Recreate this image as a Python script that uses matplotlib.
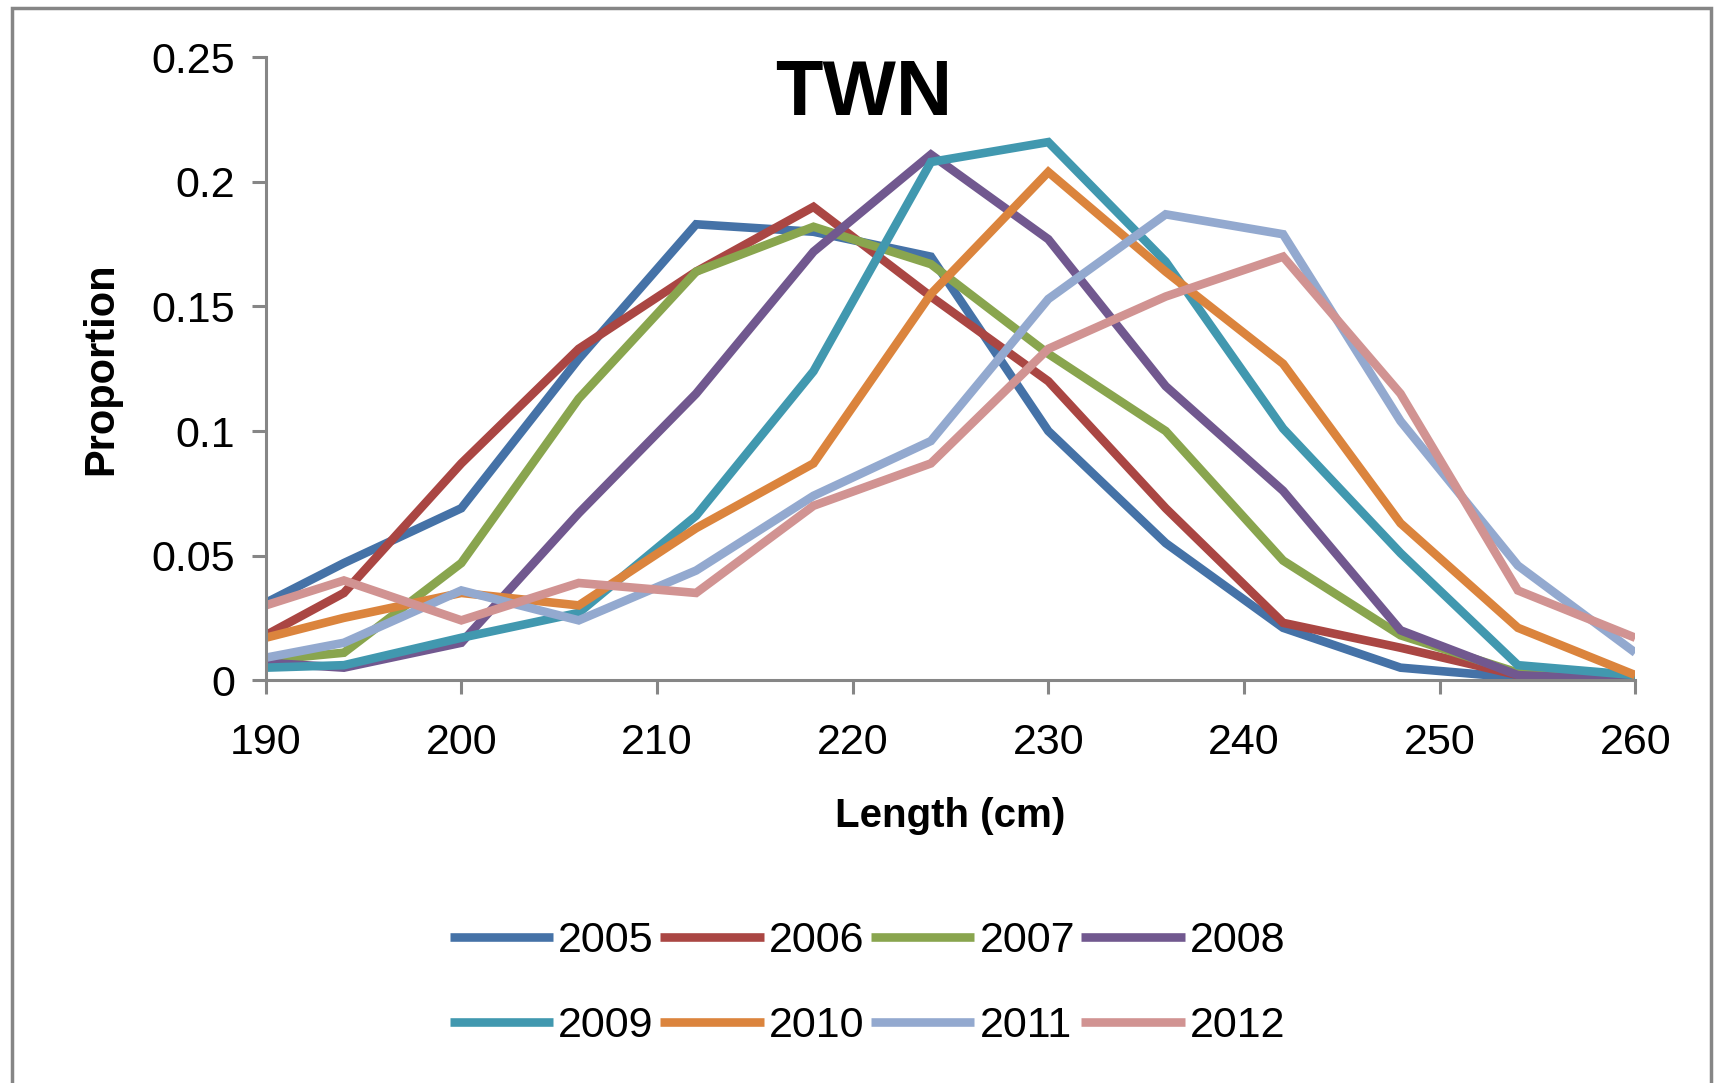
import matplotlib
matplotlib.use('Agg')
import matplotlib.pyplot as plt
import matplotlib.patches as patches

plt.rcParams['font.family'] = ['Liberation Sans Narrow', 'Liberation Sans', 'DejaVu Sans']

# Length classes (cm)
lengths = [190, 194, 200, 206, 212, 218, 224, 230, 236, 242, 248, 254, 260]

years = ['2005', '2006', '2007', '2008', '2009', '2010', '2011', '2012']

p2005 = [0.031, 0.047, 0.069, 0.129, 0.183, 0.180, 0.170, 0.100, 0.055, 0.021, 0.005, 0.001, 0.000]
p2006 = [0.018, 0.035, 0.087, 0.133, 0.164, 0.190, 0.154, 0.120, 0.069, 0.023, 0.013, 0.002, 0.000]
p2007 = [0.008, 0.011, 0.047, 0.113, 0.164, 0.182, 0.167, 0.131, 0.100, 0.048, 0.018, 0.003, 0.000]
p2008 = [0.007, 0.005, 0.015, 0.067, 0.115, 0.172, 0.211, 0.177, 0.118, 0.076, 0.020, 0.002, 0.000]
p2009 = [0.005, 0.006, 0.017, 0.027, 0.066, 0.124, 0.208, 0.216, 0.168, 0.101, 0.051, 0.006, 0.002]
p2010 = [0.017, 0.025, 0.035, 0.030, 0.061, 0.087, 0.155, 0.204, 0.164, 0.127, 0.063, 0.021, 0.002]
p2011 = [0.009, 0.015, 0.036, 0.024, 0.044, 0.074, 0.096, 0.153, 0.187, 0.179, 0.104, 0.046, 0.011]
p2012 = [0.030, 0.040, 0.024, 0.039, 0.035, 0.070, 0.087, 0.133, 0.154, 0.170, 0.115, 0.036, 0.017]

colors = ['#4572A7', '#AA4643', '#89A54E', '#71588F',
          '#4198AF', '#DB843D', '#93A9CF', '#D19392']

series = [p2005, p2006, p2007, p2008, p2009, p2010, p2011, p2012]

fig = plt.figure(figsize=(17.25, 10.83), dpi=100)
ax = fig.add_axes([0.154, 0.372, 0.794, 0.575])

lines = []
for label, vals, c in zip(years, series, colors):
    ln, = ax.plot(lengths, vals, color=c, linewidth=6.2, label=label,
                  solid_joinstyle='miter', solid_capstyle='butt')
    lines.append(ln)

ax.set_xlim(190, 260)
ax.set_ylim(0, 0.25)
ax.set_xticks(range(190, 261, 10))
ax.set_yticks([0, 0.05, 0.1, 0.15, 0.2, 0.25])
ax.set_yticklabels(['0', '0.05', '0.1', '0.15', '0.2', '0.25'])

gray = '#868686'
for side in ['top', 'right']:
    ax.spines[side].set_visible(False)
for side in ['left', 'bottom']:
    ax.spines[side].set_color(gray)
    ax.spines[side].set_linewidth(2.2)
ax.tick_params(axis='both', colors=gray, length=10, width=2.2,
               labelsize=31, labelcolor='black')
ax.tick_params(axis='x', pad=21)
ax.tick_params(axis='y', pad=12)

ax.set_xlabel('Length (cm)', fontsize=29, fontweight='bold', labelpad=24)
ax.set_ylabel('Proportion', fontsize=30, fontweight='bold', labelpad=22)

ax.text(0.437, 0.94, 'TWN', transform=ax.transAxes, ha='center', va='center',
        fontsize=56, fontweight='bold')

# legend fills column by column, so reorder to get 2005-2008 on the first row
order = [0, 4, 1, 5, 2, 6, 3, 7]
fig.legend([lines[i] for i in order], [years[i] for i in order],
           loc='center', bbox_to_anchor=(0.503, 0.092), ncol=4, frameon=False,
           fontsize=31, handlelength=2.4, handletextpad=0.12, columnspacing=0.15,
           labelspacing=1.05)

# outer chart border
border = patches.Rectangle((0.007, -0.05), 0.985, 1.043, transform=fig.transFigure,
                           fill=False, edgecolor=gray, linewidth=2.5)
fig.patches.append(border)

fig.savefig('out.png', dpi=100, facecolor='white')
